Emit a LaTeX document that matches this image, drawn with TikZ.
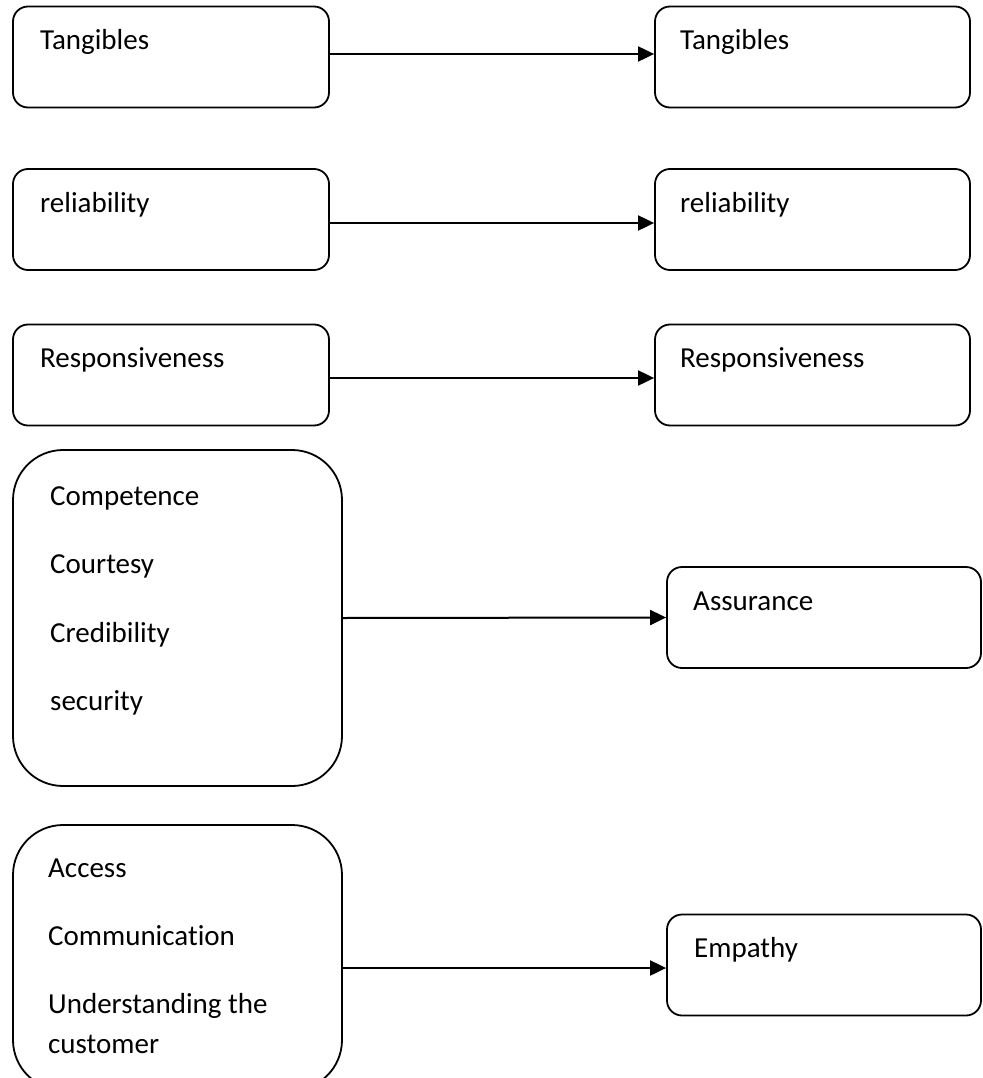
\documentclass[tikz,border=0pt]{standalone}
\usepackage{fontspec}
\setmainfont{Carlito}[Ligatures=NoCommon]
\usetikzlibrary{arrows.meta}
\begin{document}
\begin{tikzpicture}[x=1pt,y=-1pt,
  box/.style={draw, line width=1.8pt, rounded corners=15pt, inner sep=0pt, minimum height=101pt},
  bigbox/.style={draw, line width=1.8pt, rounded corners=50pt, inner sep=0pt, minimum width=329pt},
  lbl/.style={anchor=base west, inner sep=0pt, font=\fontsize{29}{35}\selectfont},
  conn/.style={line width=2pt, -{Triangle[length=16pt,width=15pt]}}]
\useasboundingbox (0,0) rectangle (982,1078);
\clip (0,0) rectangle (982,1078);
% row 1
\node[box, minimum width=316pt] (L1) at (171,57) {};
\node[box, minimum width=315pt] (R1) at (812.5,57) {};
\node[lbl] (tL1) at (40,50) {Tangibles};
\node[lbl] (tR1) at (680,50) {Tangibles};
\draw[conn] ([yshift=3pt]L1.east) -- ([yshift=3pt]R1.west);
% row 2
\node[box, minimum width=316pt] (L2) at (171,219.5) {};
\node[box, minimum width=315pt] (R2) at (812.5,219.5) {};
\node[lbl] (tL2) at (40,212) {reliability};
\node[lbl] (tR2) at (680,212) {reliability};
\draw[conn] ([yshift=-3.5pt]L2.east) -- ([yshift=-3.5pt]R2.west);
% row 3
\node[box, minimum width=316pt] (L3) at (171,375) {};
\node[box, minimum width=315pt] (R3) at (812.5,375) {};
\node[lbl] (tL3) at (40,367) {Responsiveness};
\node[lbl] (tR3) at (680,367) {Responsiveness};
\draw[conn] ([yshift=-3pt]L3.east) -- ([yshift=-3pt]R3.west);
% row 4
\node[bigbox, minimum height=336pt] (L4) at (177.5,618) {};
\node[box, minimum width=314pt] (R4) at (824,617.5) {};
\node[lbl] (a1) at (50,505) {Competence};
\node[lbl] (a2) at (50,573) {Courtesy};
\node[lbl] (a3) at (50,642) {Credibility};
\node[lbl] (a4) at (50,710) {security};
\node[lbl] (tR4) at (693,610) {Assurance};
\draw[conn] (L4.east) -- (R4.west);
% row 5
\node[bigbox, minimum height=265pt] (L5) at (177.5,957.5) {};
\node[box, minimum width=314pt] (R5) at (824,965) {};
\node[lbl] (b1) at (48,877) {Access};
\node[lbl] (b2) at (48,945) {Communication};
\node[lbl] (b3) at (48,1013) {Understanding the};
\node[lbl] (b4) at (48,1053) {customer};
\node[lbl] (tR5) at (694,957) {Empathy};
\draw[conn] ([yshift=-3pt]R5.west -| L5.east) -- ([yshift=-3pt]R5.west);
\end{tikzpicture}
\end{document}
